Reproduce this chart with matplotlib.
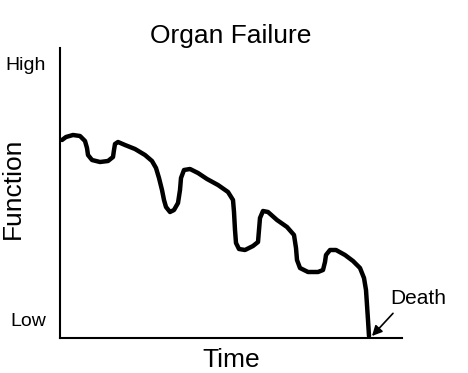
import matplotlib
matplotlib.use("Agg")
import matplotlib.pyplot as plt

plt.rcParams['font.family'] = ['Liberation Sans', 'DejaVu Sans']

# Data (arbitrary units)
time = [2, 6, 13, 20, 25, 27, 28, 32, 40, 48, 53, 54, 55, 58, 65, 75, 85, 92, 96, 99,
        102, 104, 106, 110, 114, 118, 120, 121, 124, 130, 138, 147, 158, 168, 173, 174, 175, 176, 179, 185,
        193, 198, 199, 200, 203, 208, 217, 227, 234, 236, 237, 240, 248, 258, 263, 265, 266, 270, 276, 285,
        293, 300, 304, 306, 307, 308, 309]
function = [198, 201, 203, 202, 197, 190, 183, 178, 176, 177, 181, 188, 194, 196, 193, 189, 183, 177, 170, 160,
            148, 138, 131, 126, 128, 135, 148, 160, 168, 169, 165, 159, 153, 146, 138, 126, 108, 95, 89, 88,
            92, 96, 108, 120, 127, 126, 118, 111, 103, 90, 78, 70, 66, 66, 68, 76, 83, 88, 88, 83,
            77, 70, 60, 48, 33, 18, 2]
ytick_vals = [19, 275]
ytick_labels = ["Low", "High"]

fig = plt.figure(figsize=(4.68, 3.73), dpi=100)
ax = fig.add_axes([60/468, 35/373, 342/468, 290/373])
ax.plot(time, function, color='black', lw=3.2, solid_joinstyle='round', solid_capstyle='round')
ax.set_xlim(0, 342)
ax.set_ylim(0, 290)
ax.spines['top'].set_visible(False)
ax.spines['right'].set_visible(False)
for s in ['left', 'bottom']:
    ax.spines[s].set_linewidth(1.5)
ax.set_xticks([])
ax.set_yticks(ytick_vals)
ax.set_yticklabels(ytick_labels, fontsize=14)
ax.tick_params(axis='y', length=0, pad=10)
ax.set_title("Organ Failure", fontsize=19, pad=0)
ax.set_xlabel("Time", fontsize=19)
ax.set_ylabel("Function", fontsize=19)
ax.yaxis.set_label_coords(-0.103, 0.517)
ax.xaxis.set_label_coords(0.5, -0.035)
ax.annotate("Death", xy=(312, 2), xytext=(330, 40), fontsize=15, va='center', ha='left',
            annotation_clip=False,
            arrowprops=dict(arrowstyle='-|>', color='black', lw=1.2, shrinkA=3, shrinkB=0,
                            relpos=(0.15, 0.0)))
fig.savefig("out.png", dpi=100)
